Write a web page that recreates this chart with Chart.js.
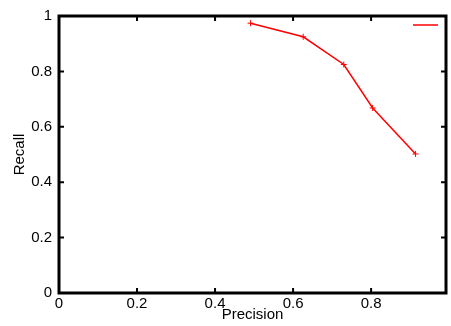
<!DOCTYPE html>
<html>
<head>
<meta charset="utf-8">
<script src="https://cdn.jsdelivr.net/npm/chart.js@4"></script>
<style>
  html, body { margin: 0; padding: 0; background: #fff; }
</style>
</head>
<body>
<canvas id="prChart" width="451" height="326"></canvas>
<script>
// precision / recall points
const precision = [0.491, 0.626, 0.730, 0.804, 0.914];
const recall = [0.974, 0.925, 0.825, 0.668, 0.502];
const xTicks = [0, 0.2, 0.4, 0.6, 0.8];
const yTicks = [0, 0.2, 0.4, 0.6, 0.8, 1];

const font = { family: '"Liberation Sans", Arial, sans-serif', size: 15 };

// gnuplot style box with inward ticks, plus the legend sample
const framePlugin = {
    id: 'frame',
    afterDatasetsDraw(chart) {
        const { ctx, chartArea: a, scales } = chart;
        ctx.save();
        ctx.strokeStyle = '#000';
        ctx.lineWidth = 2;
        ctx.beginPath();
        xTicks.forEach(v => {
            const px = scales.x.getPixelForValue(v);
            ctx.moveTo(px, a.bottom); ctx.lineTo(px, a.bottom - 5);
            ctx.moveTo(px, a.top); ctx.lineTo(px, a.top + 5);
        });
        yTicks.forEach(v => {
            const py = scales.y.getPixelForValue(v);
            ctx.moveTo(a.left, py); ctx.lineTo(a.left + 5, py);
            ctx.moveTo(a.right, py); ctx.lineTo(a.right - 5, py);
        });
        ctx.stroke();
        ctx.lineWidth = 3;
        ctx.strokeRect(a.left, a.top, a.right - a.left, a.bottom - a.top);
        // legend line (no label in the original)
        ctx.strokeStyle = '#ff0000';
        ctx.lineWidth = 1.5;
        ctx.beginPath();
        ctx.moveTo(a.right - 33, a.top + 9);
        ctx.lineTo(a.right - 8, a.top + 9);
        ctx.stroke();
        ctx.restore();
    }
};

const ctx = document.getElementById('prChart').getContext('2d');
new Chart(ctx, {
    type: 'scatter',
    data: {
        datasets: [{
            label: '',
            data: precision.map((p, i) => ({ x: p, y: recall[i] })),
            showLine: true,
            borderColor: '#ff0000',
            backgroundColor: '#ff0000',
            borderWidth: 1.5,
            pointStyle: 'cross',
            pointRadius: 3,
            pointBorderWidth: 1,
            tension: 0
        }]
    },
    options: {
        responsive: false,
        animation: false,
        layout: { padding: { top: 13, right: 2, left: 0, bottom: 0 } },
        plugins: {
            legend: { display: false },
            tooltip: { enabled: false }
        },
        scales: {
            x: {
                type: 'linear',
                min: 0,
                max: 0.992,
                afterBuildTicks: s => { s.ticks = xTicks.map(v => ({ value: v })); },
                afterFit: s => { s.height = 33; },
                grid: { display: false, drawTicks: false },
                border: { display: false },
                ticks: { color: '#000', font: font, padding: 2, maxRotation: 0, autoSkip: false,
                         callback: v => String(v) },
                title: { display: true, text: 'Precision', color: '#000', font: font,
                         padding: { top: 0, bottom: 2 } }
            },
            y: {
                type: 'linear',
                min: 0,
                max: 1,
                afterBuildTicks: s => { s.ticks = yTicks.map(v => ({ value: v })); },
                afterFit: s => { s.width = 59; },
                grid: { display: false, drawTicks: false },
                border: { display: false },
                ticks: { color: '#000', font: font, padding: 7, autoSkip: false,
                         callback: v => String(v) },
                title: { display: true, text: 'Recall', color: '#000', font: font,
                         padding: { top: 11, bottom: 0 } }
            }
        }
    },
    plugins: [framePlugin]
});
</script>
</body>
</html>
